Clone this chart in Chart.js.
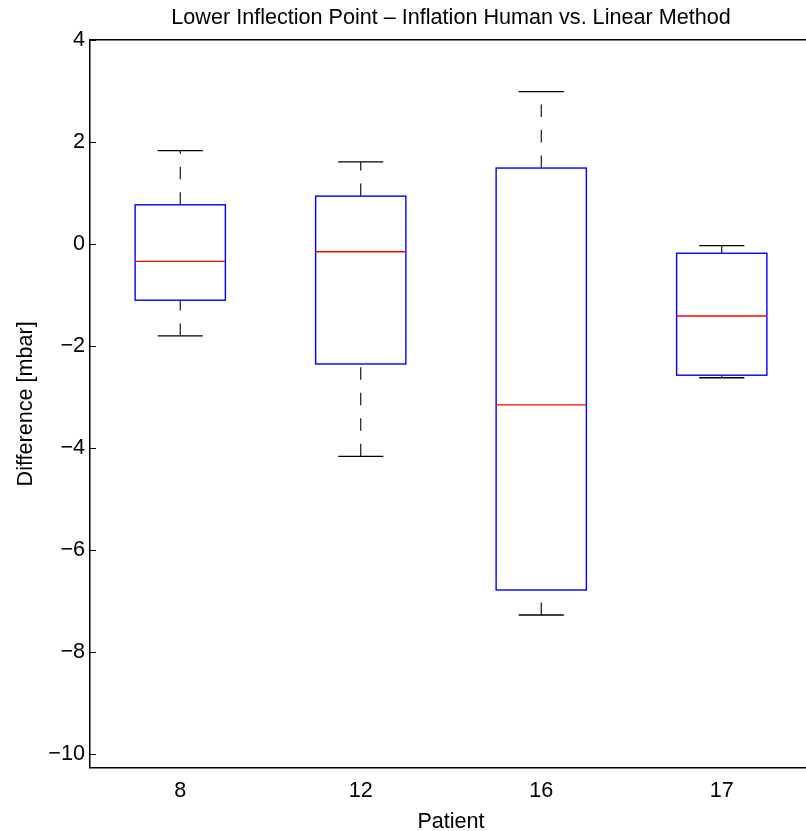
<!DOCTYPE html>
<html>
<head>
<meta charset="utf-8">
<script src="https://cdn.jsdelivr.net/npm/chart.js@4/dist/chart.umd.min.js"></script>
<style>
  html, body { margin: 0; padding: 0; overflow: hidden; background: #fff; }
  #wrap { width: 812px; height: 831px; }
</style>
</head>
<body>
<div id="wrap"><canvas id="chart" width="812" height="831"></canvas></div>
<script>
// Box plot statistics per patient (mbar)
const patients = ['8', '12', '16', '17'];
const whiskerLow = [-1.80, -4.16, -7.27, -2.62];
const quartile1 = [-1.10, -2.35, -6.78, -2.57];
const medians = [-0.34, -0.15, -3.15, -1.41];
const quartile3 = [0.77, 0.94, 1.49, -0.18];
const whiskerHigh = [1.83, 1.61, 2.99, -0.03];
const yTickValues = [-10, -8, -6, -4, -2, 0, 2, 4];

const titleText = 'Lower Inflection Point \u2013 Inflation Human vs. Linear Method';
const xLabel = 'Patient';
const yLabel = 'Difference [mbar]';

const FONT = { family: '"Liberation Sans", Arial, Helvetica, sans-serif', size: 21.6 };

// Draws boxes, medians, dashed whiskers and caps using the chart scales
const boxPlotPlugin = {
  id: 'boxPlot',
  afterDatasetsDraw(chart) {
    const { ctx, chartArea, scales: { x, y } } = chart;
    const line = (x1, y1, x2, y2) => {
      ctx.beginPath();
      ctx.moveTo(x1, y1);
      ctx.lineTo(x2, y2);
      ctx.stroke();
    };
    ctx.save();
    ctx.beginPath();
    ctx.rect(chartArea.left, chartArea.top, chartArea.right - chartArea.left, chartArea.bottom - chartArea.top);
    ctx.clip();

    patients.forEach((_, i) => {
      const pos = i + 1;
      const xc = x.getPixelForValue(pos);
      const bl = x.getPixelForValue(pos - 0.25);
      const br = x.getPixelForValue(pos + 0.25);
      const cl = x.getPixelForValue(pos - 0.125);
      const cr = x.getPixelForValue(pos + 0.125);
      const yLo = y.getPixelForValue(whiskerLow[i]);
      const yQ1 = y.getPixelForValue(quartile1[i]);
      const yMed = y.getPixelForValue(medians[i]);
      const yQ3 = y.getPixelForValue(quartile3[i]);
      const yHi = y.getPixelForValue(whiskerHigh[i]);

      // dashed whiskers, each drawn upward from its lower end
      ctx.strokeStyle = '#000';
      ctx.lineWidth = 1.1;
      ctx.setLineDash([12.5, 13]);
      line(xc, yLo, xc, yQ1);
      line(xc, yQ3, xc, yHi);
      ctx.setLineDash([]);

      // whisker caps
      ctx.lineWidth = 1.3;
      line(cl, yLo, cr, yLo);
      line(cl, yHi, cr, yHi);

      // box
      ctx.strokeStyle = '#0000ff';
      ctx.lineWidth = 1.4;
      ctx.strokeRect(bl, yQ3, br - bl, yQ1 - yQ3);

      // median
      ctx.strokeStyle = '#ff0000';
      ctx.lineWidth = 1.3;
      line(bl, yMed, br, yMed);
    });
    ctx.restore();

    // inward tick marks on the y axis
    ctx.save();
    ctx.strokeStyle = '#000';
    ctx.lineWidth = 1;
    y.ticks.forEach(t => {
      const py = Math.round(y.getPixelForValue(t.value)) + 0.5;
      line(chartArea.left, py, chartArea.left + 6, py);
    });
    ctx.restore();
  }
};

new Chart(document.getElementById('chart'), {
  type: 'scatter',
  data: {
    datasets: [{
      data: medians.map((m, i) => ({ x: i + 1, y: m })),
      pointRadius: 0,
      pointHoverRadius: 0,
      showLine: false
    }]
  },
  options: {
    responsive: false,
    animation: false,
    events: [],
    layout: { padding: 0 },
    plugins: {
      legend: { display: false },
      tooltip: { enabled: false },
      title: { display: false }
    },
    scales: {
      x: {
        type: 'linear',
        position: 'bottom',
        min: 0.5,
        max: 4.5,
        afterBuildTicks: s => { s.ticks = patients.map((_, i) => ({ value: i + 1 })); },
        ticks: {
          callback: (v, idx) => patients[idx],
          font: FONT,
          color: '#000',
          padding: 10.1,
          maxRotation: 0,
          autoSkip: false
        },
        grid: { display: false, drawTicks: false },
        border: { display: true, color: '#000', width: 1.5 },
        title: { display: true, text: xLabel, font: FONT, color: '#000', padding: { top: 0, bottom: -4.2 } },
        afterFit: s => { s.height = 63.3; s.paddingLeft = 0; s.paddingRight = 0; }
      },
      xTop: {
        type: 'linear',
        position: 'top',
        min: 0.5,
        max: 4.5,
        ticks: { display: false },
        grid: { display: false, drawTicks: false },
        border: { display: true, color: '#000', width: 1.5 },
        title: { display: true, text: titleText, font: FONT, color: '#000', padding: { top: 5.5, bottom: 0 } },
        afterFit: s => { s.height = 40; s.paddingLeft = 0; s.paddingRight = 0; }
      },
      y: {
        type: 'linear',
        position: 'left',
        min: -10.263,
        max: 4,
        afterBuildTicks: s => { s.ticks = yTickValues.map(v => ({ value: v })); },
        ticks: {
          callback: v => (v < 0 ? '\u2212' + Math.abs(v) : String(v)),
          font: FONT,
          color: '#000',
          padding: 5
        },
        grid: { display: false, drawTicks: false },
        border: { display: true, color: '#000', width: 1.5 },
        title: { display: true, text: yLabel, font: FONT, color: '#000', padding: { top: 12.8, bottom: 0 } },
        afterFit: s => { s.width = 90; s.paddingTop = 0; s.paddingBottom = 0; }
      }
    }
  },
  plugins: [boxPlotPlugin]
});
</script>
</body>
</html>
